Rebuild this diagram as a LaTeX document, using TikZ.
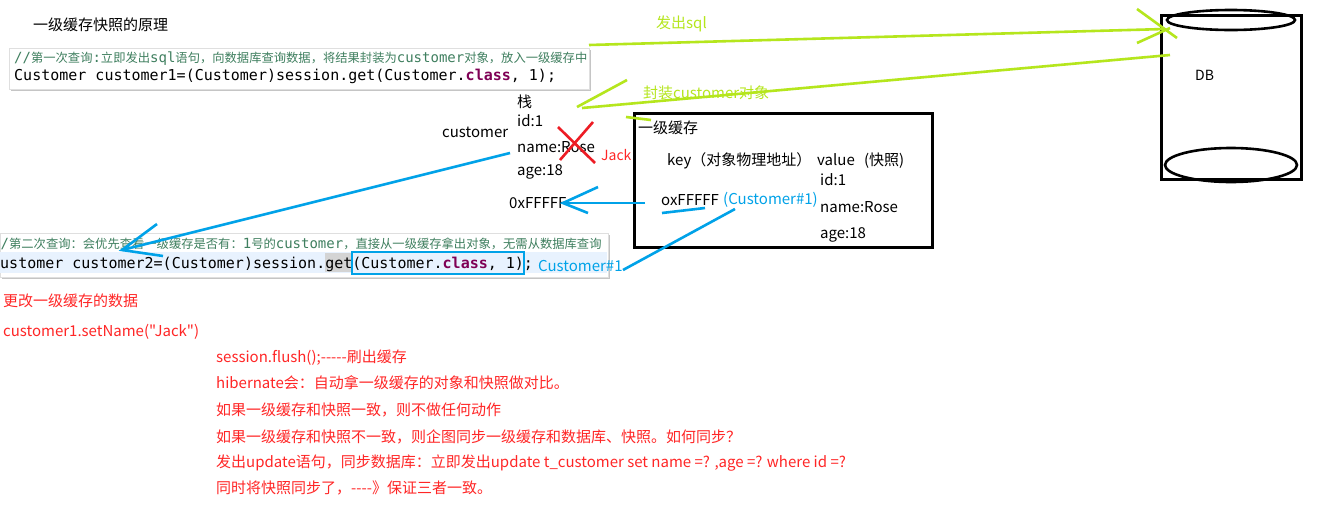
\documentclass[tikz,border=0pt]{standalone}
\usepackage{fontspec}
\setmainfont{Noto Sans CJK SC}[Ligatures=TeXOff]
\newfontfamily\monofont{DejaVu Sans Mono}[Ligatures=TeXOff]
\usetikzlibrary{shadows}
\definecolor{lime}{RGB}{181,230,29}
\definecolor{skyb}{RGB}{0,162,232}
\definecolor{redt}{RGB}{255,38,38}
\definecolor{redx}{RGB}{237,28,36}
\definecolor{cmtgreen}{RGB}{63,127,95}
\definecolor{kwpurple}{RGB}{127,0,85}
\definecolor{hlblue}{RGB}{232,242,254}
\definecolor{hlgray}{RGB}{212,212,212}
\newcommand\fs[1]{\fontsize{#1}{#1}\selectfont}
\newcommand\mtx[1]{{\monofont\fs{14}#1}}
\begin{document}
\begin{tikzpicture}[x=1pt,y=-1pt,
  lbl/.style={anchor=base west, inner sep=0pt, font=\fs{15}},
  redl/.style={lbl, text=redt},
  gline/.style={draw=lime, line width=2.6pt},
  bline/.style={draw=skyb, line width=2.6pt},
  codebox/.style={draw=gray!25, fill=white, inner sep=0pt, anchor=north west,
    drop shadow={shadow xshift=2pt, shadow yshift=-2pt, opacity=.45}},
  codetxt/.style={anchor=base west, inner sep=0pt},
  thickbox/.style={draw, line width=3pt, inner sep=0pt, anchor=north west}]
\useasboundingbox (0,0) rectangle (1320,528);
\fill[white] (0,0) rectangle (1320,528);

% title
\node[lbl] (title) at (33,30.5) {一级缓存快照的原理};

% code box 1
\node[codebox, minimum width=580pt, minimum height=41pt] (code1) at (9,48) {};
\node[codetxt, text=cmtgreen, font=\fs{12.3}] (c1a) at (14,62.5)
  {\mtx{//}第一次查询\mtx{:}立即发出\mtx{sql}语句，向数据库查询数据，将结果封装为\mtx{customer}对象，放入一级缓存中};
\node[codetxt, font=\monofont\fs{15}] (c1b) at (14,80)
  {Customer customer1=(Customer)session.get(Customer.\textcolor{kwpurple}{\bfseries class}, 1);};

% code box 2
\node[codebox, minimum width=608pt, minimum height=44pt] (code2) at (0,233) {};
\fill[hlblue] (0,252) rectangle (607,273);
\fill[hlgray] (325,253) rectangle (352,272);
\node[codetxt, text=cmtgreen, font=\fs{12.3}] (c2a) at (0.5,248)
  {\mtx{/}第二次查询：会优先查看一级缓存是否有：\mtx{1}号的\mtx{customer}，直接从一级缓存拿出对象，无需从数据库查询};
\node[codetxt, font=\monofont\fs{15}] (c2b) at (0,268)
  {ustomer customer2=(Customer)session.get(Customer.\textcolor{kwpurple}{\bfseries class}, 1);};
\node[draw=skyb, line width=2.4pt, inner sep=0pt, anchor=north west,
  minimum width=172pt, minimum height=22pt] (hlrect) at (351,251) {};

% stack object
\node[lbl] (zhan) at (517,107.5) {栈};
\node[lbl] (sid) at (517,126.5) {id:1};
\node[lbl] (sname) at (517,152.5) {name:Rose};
\node[lbl] (sage) at (517,175.5) {age:18};
\node[lbl] (cust) at (442,137) {customer};
\draw[draw=redx, line width=2.6pt] (558,127) -- (595,163) (593,122) -- (560,160);
\node[lbl, text=redt, font=\fs{14}] (jack) at (601,160.5) {Jack};
\node[lbl] (addr) at (509,208.5) {0xFFFFF};

% cache box
\node[thickbox, minimum width=298pt, minimum height=134pt] (cache) at (633,112) {};
\node[lbl] (cachet) at (638,133.5) {一级缓存};
\node[lbl] (key) at (667,165.5) {key（对象物理地址）};
\node[lbl] (val) at (817,165.5) {value\ \ \,(快照)};
\node[lbl] (vid) at (820,185.5) {id:1};
\node[lbl] (vname) at (820,212.5) {name:Rose};
\node[lbl] (vage) at (820,238.5) {age:18};
\node[lbl] (kaddr) at (661,205.5) {oxFFFFF};
\node[lbl, text=skyb] (kobj) at (723,204.5) {(Customer\#1)};
\node[lbl, text=skyb] (obj2) at (538,271.5) {Customer\#1};

% DB
\node[thickbox, minimum width=140pt, minimum height=164pt] (db) at (1160,14) {};
\draw[line width=2.6pt] (1231,20) ellipse [x radius=64, y radius=10];
\draw[line width=2.6pt] (1231,165) ellipse [x radius=66, y radius=17];
\node[lbl, font=\fs{14}] (dbt) at (1195,80) {DB};

% green connectors
\node[lbl, text=lime] (sqlt) at (656,28.5) {发出sql};
\node[lbl, text=lime] (wrapt) at (643,98.5) {封装customer对象};
\coordinate (sqlA) at (589,45);
\coordinate (sqlB) at (1165,29);
\draw[gline] (sqlA) -- (sqlB);
\draw[gline] (1137,9) -- (1177,38) (1137,43) -- (1170,28);
\coordinate (retA) at (1170,55);
\coordinate (retB) at (582,108);
\draw[gline] (retA) -- (retB);
\draw[gline] (577,107) -- (627,80);
\draw[gline] (626,117) -- (651,120);

% blue connectors
\coordinate (refA) at (510,153);
\coordinate (refB) at (122,250);
\draw[bline] (refA) -- (refB);
\draw[bline] (157,224) -- (refB) -- (163,256);
\coordinate (ptrA) at (645,203);
\coordinate (ptrB) at (563,203);
\draw[bline] (ptrA) -- (ptrB);
\draw[bline] (598,187) -- (ptrB) -- (588,213);
\coordinate (objA) at (735,209);
\coordinate (objB) at (623,270);
\draw[bline] (objA) -- (objB);
\draw[bline] (662,213) -- (705,208);

% red notes
\node[redl] (r1) at (3,306.5) {更改一级缓存的数据};
\node[redl] (r2) at (3,336.5) {customer1.setName("Jack")};
\node[redl] (r3) at (216,362.5) {session.flush();-----刷出缓存};
\node[redl] (r4) at (216,388.5) {hibernate会：自动拿一级缓存的对象和快照做对比。};
\node[redl] (r5) at (216,415) {如果一级缓存和快照一致，则不做任何动作};
\node[redl] (r6) at (216,442) {如果一级缓存和快照不一致，则企图同步一级缓存和数据库、快照。如何同步？};
\node[redl] (r7) at (216,467.5) {发出update语句，同步数据库：立即发出update t\_customer set name =? ,age =? where id =?};
\node[redl] (r8) at (216,493) {同时将快照同步了，----》保证三者一致。};
\end{tikzpicture}
\end{document}
